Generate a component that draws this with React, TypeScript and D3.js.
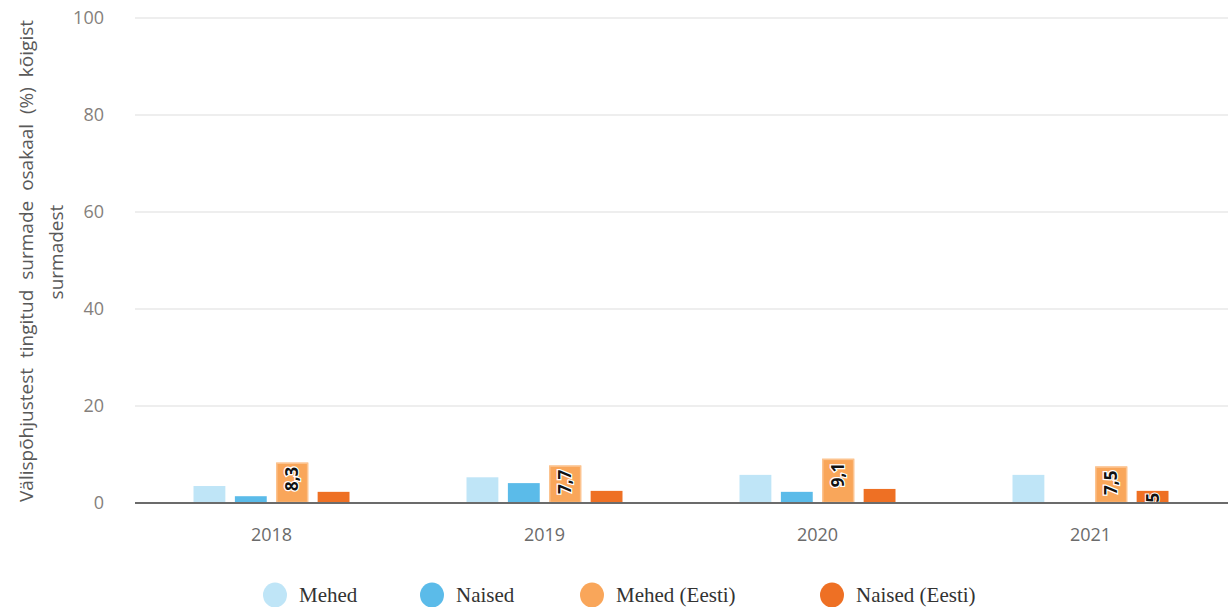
import React from "react";
import * as d3 from "d3";

const years = ["2018", "2019", "2020", "2021"];
const seriesNames = ["Mehed", "Naised", "Mehed (Eesti)", "Naised (Eesti)"];
const mehed = [3.5, 5.3, 5.8, 5.8];
const naised = [1.4, 4.1, 2.3, 0];
const mehedEesti = [8.3, 7.7, 9.1, 7.5];
const naisedEesti = [2.3, 2.5, 2.9, 2.5];
const yTicks = [0, 20, 40, 60, 80, 100];
const colors = ["#bfe5f7", "#5bbbe9", "#f9a65a", "#ee7024"];

function Chart() {
  const width = 1228;
  const height = 607;
  const left = 135;
  const right = 1227;
  const top = 18;
  const bottom = 503;

  const values = [mehed, naised, mehedEesti, naisedEesti];
  // which series carry a value label
  const labelled = [false, false, true, false];

  const x = d3.scaleBand().domain(years).range([left, right]);
  const inner = d3
    .scaleBand()
    .domain(seriesNames)
    .range([-78, 78])
    .paddingInner(0.23);
  const y = d3.scaleLinear().domain([0, 100]).range([bottom, top]);

  const fmt = (v: number) => v.toFixed(1).replace(".", ",");

  const bars = values.flatMap((vals, si) =>
    vals.map((v, i) => ({
      v,
      si,
      year: years[i],
      x: (x(years[i]) as number) + x.bandwidth() / 2 + (inner(seriesNames[si]) as number),
    }))
  );

  const legendX = [275, 432, 592, 832];
  const lastX =
    (x("2021") as number) + x.bandwidth() / 2 + (inner("Naised (Eesti)") as number);

  return (
    <svg width={width} height={height} style={{ position: "absolute", left: 0, top: 0 }}>
      <defs>
        <clipPath id="clip2021">
          <rect
            x={lastX}
            y={y(naisedEesti[3]) - 2}
            width={inner.bandwidth()}
            height={y(0) - y(naisedEesti[3]) + 2}
          />
        </clipPath>
      </defs>

      {yTicks.map((t) => (
        <g key={t}>
          {t > 0 && (
            <line x1={left} x2={width} y1={y(t)} y2={y(t)} stroke="#e8e8e8" strokeWidth={1.5} />
          )}
          <text
            x={104}
            y={y(t)}
            dy="0.35em"
            textAnchor="end"
            fontFamily="Open Sans, sans-serif"
            fontSize={18}
            fill="#857f7c"
          >
            {t}
          </text>
        </g>
      ))}

      {bars.map((b, i) => {
        const h = y(0) - y(b.v);
        if (h <= 0) return null;
        return (
          <rect
            key={i}
            x={b.x}
            y={y(b.v)}
            width={inner.bandwidth()}
            height={h}
            fill={colors[b.si]}
          />
        );
      })}

      {bars
        .filter((b) => labelled[b.si])
        .map((b, i) => {
          const cx = b.x + inner.bandwidth() / 2;
          const ty = y(b.v);
          return (
            <g key={i}>
              <rect
                x={b.x + 0.5}
                y={ty + 0.5}
                width={inner.bandwidth() - 1}
                height={y(0) - ty - 1}
                fill="none"
                stroke="#fcc38f"
                strokeWidth={1.5}
              />
              <text
                transform={`translate(${cx},${ty + 4}) rotate(-90)`}
                textAnchor="end"
                dy="0.35em"
                fontFamily="Open Sans, sans-serif"
                fontWeight="bold"
                fontSize={17}
                fill="#111"
                stroke="#fff"
                strokeWidth={2.5}
                paintOrder="stroke"
              >
                {fmt(b.v)}
              </text>
            </g>
          );
        })}

      <g clipPath="url(#clip2021)">
        <text
          transform={`translate(${lastX + inner.bandwidth() / 2},${y(naisedEesti[3]) + 2}) rotate(-90)`}
          textAnchor="end"
          dy="0.35em"
          fontFamily="Open Sans, sans-serif"
          fontWeight="bold"
          fontSize={17}
          fill="#111"
          stroke="#fff"
          strokeWidth={2}
          paintOrder="stroke"
        >
          {fmt(naisedEesti[3])}
        </text>
      </g>

      <line x1={left} x2={width} y1={bottom} y2={bottom} stroke="#6b6b6b" strokeWidth={2} />

      {years.map((yr) => (
        <text
          key={yr}
          x={(x(yr) as number) + x.bandwidth() / 2}
          y={535}
          dy="0.35em"
          textAnchor="middle"
          fontFamily="Open Sans, sans-serif"
          fontSize={18}
          fill="#6b6b6b"
        >
          {yr}
        </text>
      ))}

      <g fontFamily="Open Sans, sans-serif" fontSize={19} fill="#595959" textAnchor="middle">
        <text transform="translate(26,261) rotate(-90)" dy="0.35em" wordSpacing="5">
          Välispõhjustest tingitud surmade osakaal (%) kõigist
        </text>
        <text transform="translate(56,252) rotate(-90)" dy="0.35em">
          surmadest
        </text>
      </g>

      {seriesNames.map((s, i) => (
        <g key={s}>
          <ellipse cx={legendX[i]} cy={595} rx={12} ry={12.5} fill={colors[i]} />
          <text
            x={legendX[i] + 24}
            y={595}
            dy="0.35em"
            fontFamily="Liberation Serif, Times New Roman, serif"
            fontSize={21}
            fill="#333"
          >
            {s}
          </text>
        </g>
      ))}
    </svg>
  );
}

export default function App() {
  return <Chart />;
}
